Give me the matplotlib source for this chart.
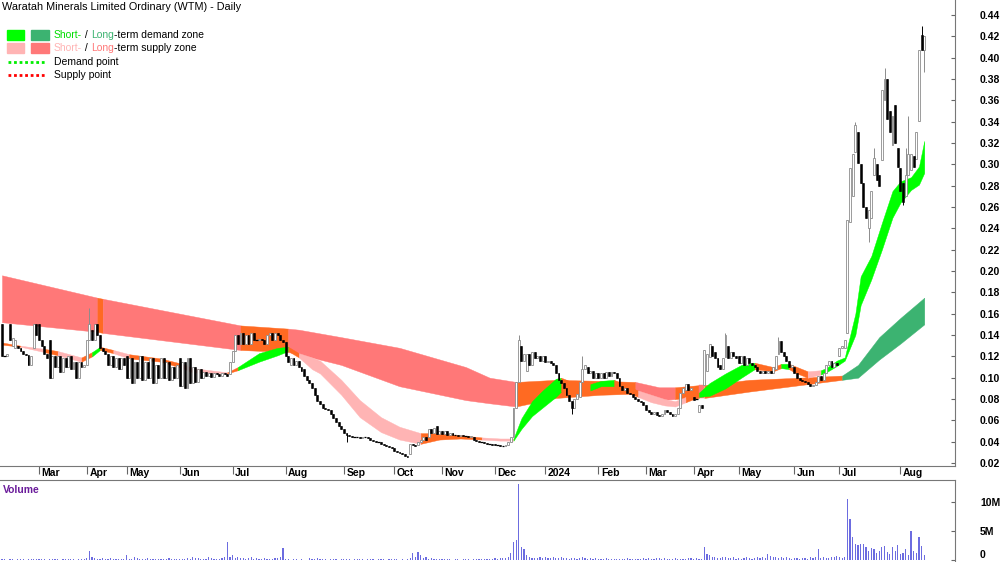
import numpy as np
import matplotlib
matplotlib.use("Agg")
import matplotlib.pyplot as plt
from matplotlib.patches import Rectangle
from matplotlib.lines import Line2D

plt.rcParams['font.family'] = ['Liberation Sans', 'DejaVu Sans']

# ---- data (prices in thousandths of a dollar, volume in 100k shares) ----
month_bars = [14, 18, 15, 20, 20, 20, 22, 19, 18, 20, 19, 20, 18, 18, 17, 21, 17, 23, 10]   # Feb-23 .. Aug-24
month_labels = ["Mar", "Apr", "May", "Jun", "Jul", "Aug", "Sep", "Oct", "Nov", "Dec",
                "2024", "Feb", "Mar", "Apr", "May", "Jun", "Jul", "Aug"]

opens = [
    150, 120, 120, 150, 130, 128, 130, 128, 125, 122, 121, 112, 128, 150,
    150, 135, 130, 122, 135, 100, 120, 110, 120, 105, 118, 110, 120, 108, 115, 100, 115, 110,
    112, 135, 145, 135, 150, 140, 128, 125, 122, 112, 120, 110, 118, 108, 118,
    120, 100, 118, 95, 115, 100, 120, 98, 115, 100, 118, 95, 112, 100, 118, 100, 115, 98, 110, 100,
    118, 92, 115, 90, 118, 95, 110, 96, 108, 100, 105, 102, 104, 101, 104, 103, 102, 104, 103, 103,
    115, 125, 140, 132, 142, 132, 140, 132, 142, 135, 135, 136, 135, 132, 140, 142, 135, 142, 140, 135,
    133, 120, 112, 118, 112, 116, 110, 108, 102, 98, 95, 90, 84, 78, 75, 72, 71, 70, 66, 62, 58, 55,
    52, 48, 46, 45, 44, 44, 44, 43, 44, 44, 43, 42, 41, 40, 40, 38, 37, 36, 35,
    34, 31, 30, 29, 28, 27, 28, 38, 37, 37, 40, 42, 44, 44, 52, 48, 55, 47,
    50, 47, 50, 46, 48, 46, 46, 45, 46, 45, 45, 44, 44, 42, 41, 40, 40, 39, 38, 38,
    38, 37, 37, 36, 36, 37, 40, 44, 72, 96, 130, 116, 106, 122, 112, 124, 118, 120, 116,
    120, 115, 116, 114, 112, 104, 98, 95, 90, 84, 78, 72, 80, 82, 96, 108, 110, 104, 106, 100,
    104, 100, 104, 100, 105, 102, 105, 104, 100, 92, 88, 90, 86, 85, 82, 80, 78, 77,
    74, 70, 68, 66, 68, 65, 64, 66, 70, 68, 66, 64, 66, 72, 86, 88, 94, 88,
    82, 80, 68, 74, 93, 106, 119, 130, 124, 118, 112, 108, 119, 130, 118, 124, 120,
    120, 114, 120, 112, 118, 114, 112, 110, 106, 104, 106, 104, 106, 104, 108, 122, 134, 124, 120, 116, 110,
    110, 104, 100, 98, 97, 96, 94, 92, 93, 96, 102, 98, 104, 112, 116, 110, 114,
    120, 128, 128, 142, 246, 270, 312, 330, 300, 283, 260, 240, 250, 290, 300, 290, 304, 360, 380, 350, 318, 356, 315,
    297, 283, 270, 290, 295, 308, 305, 341, 421, 407,
]
closes = [
    120, 120, 122, 135, 137, 135, 128, 125, 122, 121, 112, 120, 150, 140,
    135, 130, 122, 118, 100, 120, 110, 120, 105, 118, 110, 120, 108, 115, 100, 115, 110, 112,
    135, 150, 135, 150, 140, 128, 125, 122, 112, 120, 110, 118, 108, 118, 112,
    100, 118, 95, 115, 100, 120, 98, 115, 100, 118, 95, 112, 100, 118, 100, 115, 98, 110, 100, 112,
    92, 115, 90, 118, 95, 110, 96, 108, 100, 105, 102, 104, 101, 104, 103, 102, 104, 103, 102, 115,
    125, 140, 132, 142, 132, 140, 132, 142, 135, 135, 136, 135, 132, 140, 142, 135, 142, 140, 135, 133,
    120, 115, 118, 112, 116, 110, 106, 102, 98, 95, 90, 84, 78, 75, 72, 71, 70, 66, 62, 58, 55, 52,
    48, 46, 45, 44, 44, 44, 43, 44, 44, 43, 42, 41, 40, 40, 38, 37, 36, 35, 34,
    31, 30, 29, 28, 27, 26, 38, 37, 36, 40, 42, 44, 42, 52, 48, 53, 47, 50,
    47, 50, 46, 48, 46, 46, 45, 46, 45, 45, 44, 45, 42, 41, 40, 40, 39, 38, 38, 37,
    37, 37, 36, 36, 37, 40, 44, 72, 96, 135, 116, 122, 122, 112, 124, 118, 120, 116, 120,
    115, 116, 114, 112, 104, 98, 95, 90, 84, 78, 72, 80, 85, 96, 108, 112, 104, 106, 100, 104,
    100, 104, 100, 105, 102, 105, 104, 100, 92, 88, 90, 86, 85, 82, 80, 78, 77, 74,
    70, 68, 66, 68, 65, 64, 66, 70, 68, 66, 64, 66, 72, 86, 90, 94, 88, 90,
    79, 80, 74, 72, 126, 122, 132, 120, 118, 110, 108, 118, 140, 118, 124, 120, 118,
    114, 120, 112, 118, 114, 112, 110, 106, 104, 106, 104, 106, 104, 110, 120, 134, 124, 120, 116, 110, 112,
    104, 100, 98, 97, 96, 94, 92, 93, 96, 102, 98, 104, 112, 116, 110, 114, 112,
    128, 130, 135, 248, 297, 310, 337, 301, 283, 260, 250, 257, 275, 306, 285, 280, 370, 380, 343, 330, 345, 320, 298,
    275, 265, 290, 310, 310, 298, 330, 407, 407, 420,
]
wick_highs = {33: 165, 195: 140, 219: 120, 273: 142, 293: 138, 322: 340, 329: 315,
              333: 390, 341: 315, 342: 345, 347: 430}
wick_lows = {130: 40, 215: 66, 327: 227, 340: 262, 348: 387}

volume = [
    2, 1, 0, 1, 1, 0, 1, 2, 1, 0, 1, 1, 2, 1,
    1, 2, 1, 0, 1, 1, 2, 1, 0, 1, 1, 1, 2, 1, 0, 1, 2, 1,
    4, 15, 5, 3, 2, 1, 3, 2, 1, 4, 2, 1, 1, 2, 1,
    8, 2, 1, 6, 3, 1, 2, 1, 4, 1, 2, 1, 1, 2, 1, 1, 3, 1, 1, 2,
    2, 1, 1, 4, 2, 6, 3, 4, 2, 1, 2, 5, 3, 1, 2, 1, 4, 6, 31, 5,
    8, 4, 6, 3, 4, 2, 3, 5, 2, 3, 2, 1, 3, 2, 1, 2, 3, 4, 6, 20,
    2, 1, 0, 1, 1, 0, 1, 0, 0, 4, 1, 2, 3, 1, 2, 1, 0, 1, 2, 1, 0, 1,
    2, 1, 1, 0, 1, 1, 2, 1, 0, 1, 1, 1, 0, 1, 1, 1, 0, 1, 2,
    1, 1, 0, 1, 0, 2, 4, 12, 6, 14, 8, 3, 5, 2, 3, 1, 2, 2,
    1, 2, 1, 1, 0, 1, 1, 0, 1, 1, 1, 0, 1, 1, 2, 1, 1, 2, 1, 2,
    3, 2, 3, 4, 3, 5, 12, 30, 35, 130, 22, 18, 8, 5, 4, 3, 4, 5, 3,
    6, 4, 3, 5, 4, 3, 5, 4, 3, 2, 4, 3, 2, 4, 5, 3, 2, 3, 2, 3,
    2, 1, 2, 3, 1, 2, 1, 2, 1, 2, 1, 3, 2, 1, 2, 2, 1, 3,
    2, 3, 1, 2, 3, 4, 2, 3, 2, 1, 2, 3, 1, 2, 1, 2, 3, 4,
    2, 3, 1, 2, 22, 10, 8, 5, 6, 4, 3, 5, 6, 4, 3, 5, 2,
    3, 2, 4, 5, 3, 2, 4, 6, 3, 5, 4, 10, 7, 5, 6, 4, 5, 3, 6, 4, 2,
    4, 3, 2, 3, 4, 2, 5, 3, 6, 18, 4, 5, 3, 4, 6, 5, 7,
    6, 4, 5, 105, 70, 40, 28, 25, 27, 28, 22, 15, 20, 18, 12, 15, 22, 24, 13, 10, 22, 15, 26,
    10, 12, 18, 8, 50, 15, 12, 40, 24, 8,
]

# short-term zone (knot bar index, upper, lower, zone type from this knot on)
short_idx = [0, 7, 16, 21, 30, 34, 37, 42, 48, 60, 68, 72, 85, 89, 97, 104, 108, 112, 117, 120,
             128, 135, 143, 150, 158, 165, 173, 181, 188, 193, 196, 200, 204, 209, 211, 216, 222,
             226, 231, 236, 240, 245, 250, 254, 258, 263, 267, 273, 279, 284, 291, 294, 297, 299,
             304, 309, 311, 315, 318, 322, 324, 328, 332, 336, 339, 343, 346, 348]
short_hi = [133, 130, 127, 125, 119, 124, 129, 126, 122, 118, 113, 109, 105, 110, 123, 128, 129, 123,
            119, 116, 98, 79, 63, 54, 48, 48, 46, 44, 43, 43, 62, 78, 88, 99, 100, 95, 94, 97, 98,
            92, 88, 84, 80, 78, 82, 86, 95, 104, 112, 114, 110, 113, 113, 111, 106, 107, 109, 116,
            119, 160, 195, 214, 245, 275, 284, 288, 298, 322]
short_lo = [131, 129, 124, 121, 115, 120, 126, 123, 118, 115, 109, 105, 104, 107, 115, 121, 125, 119,
            108, 104, 84, 63, 49, 42, 38, 42, 43, 42, 41, 41, 52, 64, 72, 82, 87, 88, 88, 92, 92,
            86, 82, 77, 74, 73, 77, 82, 83, 90, 100, 108, 106, 109, 108, 105, 100, 103, 105, 111,
            116, 140, 168, 192, 220, 250, 264, 276, 281, 292]
short_zone = "opopogopoo" "ppogggoppp" "ppppoooppg" "ggggooggoo" "ppppoggggo" "ogoopggggg" "gggggggg"

# long-term zone
long_idx = [0, 36, 38, 90, 108, 112, 128, 150, 175, 184, 194, 209, 226, 239, 248, 254, 263, 265,
            282, 301, 317, 323, 331, 339, 348]
long_hi = [196, 175, 174, 149, 146, 145, 138, 128, 110, 100, 96, 98, 97, 96, 91, 91, 93, 93, 98,
           100, 102, 112, 138, 156, 175]
long_lo = [152, 143, 142, 126, 124, 122, 112, 92, 79, 76, 73, 81, 84, 85, 79, 80, 81, 81, 87, 93,
           98, 100, 117, 132, 150]
long_zone = "rororrrrrr" "ooorrorooo" "ddddd"

ZONE_COLORS = {"r": "#FF7878", "p": "#FFB4B4", "g": "#00FF00", "d": "#3CB371", "o": "#FF6A22"}

# ---- helpers ----
def draw_zone(ax, idx, hi, lo, zone, z):
    idx = np.asarray(idx)
    hi = np.asarray(hi) / 1000
    lo = np.asarray(lo) / 1000
    start = 0
    n = len(idx)
    for k in range(1, n):
        if k == n - 1 or zone[k] != zone[start]:
            sl = slice(start, k + 1)
            ax.fill_between(idx[sl], lo[sl], hi[sl], color=ZONE_COLORS[zone[start]],
                            lw=0.3, edgecolor=ZONE_COLORS[zone[start]], zorder=z)
            start = k


def rich_text(fig, x, y, parts, **kw):
    r = fig.canvas.get_renderer()
    for s, c in parts:
        t = fig.text(x, y, s, color=c, **kw)
        x += t.get_window_extent(renderer=r).width / fig.bbox.width


def main():
    o = np.array(opens) / 1000
    c = np.array(closes) / 1000
    hi = np.maximum(o, c)
    lo = np.minimum(o, c)
    for i, v in wick_highs.items():
        hi[i] = v / 1000
    for i, v in wick_lows.items():
        lo[i] = v / 1000
    vol = np.array(volume) * 1e5
    x = np.arange(len(o))
    assert len(o) == len(c) == len(vol) == sum(month_bars)
    starts = np.cumsum(month_bars)[:-1]

    fig = plt.figure(figsize=(10, 5.62), dpi=100)
    ax = fig.add_axes([0, 0.1708, 0.955, 0.8292])
    axv = fig.add_axes([0, 0, 0.955, 0.1459])

    draw_zone(ax, long_idx, long_hi, long_lo, long_zone, 1)
    draw_zone(ax, short_idx, short_hi, short_lo, short_zone, 2)

    up = c > o
    down = c < o
    flat = c == o
    ax.vlines(x[up], lo[up], hi[up], color="#8C8C8C", lw=0.7, zorder=3)
    ax.vlines(x[~up], lo[~up], hi[~up], color="black", lw=0.7, zorder=3)
    ax.bar(x[up], (c - o)[up], bottom=o[up], width=0.72, facecolor="white",
           edgecolor="#8C8C8C", lw=0.6, zorder=4)
    ax.bar(x[down], (o - c)[down], bottom=c[down], width=0.72, color="black",
           edgecolor="black", lw=0.4, zorder=4)
    ax.hlines(c[flat], x[flat] - 0.5, x[flat] + 0.5, color="black", lw=0.9, zorder=4)

    ax.set_xlim(-0.75, 359.6)
    ax.set_ylim(0.0172, 0.4541)
    ax.yaxis.tick_right()
    ax.set_yticks(np.arange(0.02, 0.445, 0.02))
    ax.set_yticklabels([f"{v:.2f}" for v in np.arange(0.02, 0.445, 0.02)],
                       fontsize=7.5, fontweight="bold")
    ax.tick_params(axis="y", direction="in", length=3, pad=18, color="#666666")
    ax.set_xticks(starts)
    ax.tick_params(axis="x", direction="out", length=6, labelbottom=False, color="#666666")
    trans = ax.get_xaxis_transform()
    for s, lab in zip(starts, month_labels):
        ax.text(s + 1.0, -0.016, lab, transform=trans, ha="left", va="center",
                fontsize=7.5, fontweight="bold")
    for side in ("left", "top"):
        ax.spines[side].set_visible(False)
    for side in ("right", "bottom"):
        ax.spines[side].set_color("#777777")

    axv.bar(x, vol, width=0.45, color="#6C6CE0", zorder=2)
    axv.set_xlim(-0.75, 359.6)
    axv.set_ylim(-0.34e6, 13.68e6)
    axv.yaxis.tick_right()
    axv.set_yticks([0, 5e6, 10e6])
    axv.set_yticklabels(["0", "5M", "10M"], fontsize=7.5, fontweight="bold")
    axv.get_yticklabels()[0].set_va("bottom")
    axv.tick_params(axis="y", direction="in", length=3, pad=18, color="#666666")
    axv.set_xticks([])
    for side in ("left", "bottom"):
        axv.spines[side].set_visible(False)
    for side in ("right", "top"):
        axv.spines[side].set_color("#777777")
    axv.text(0.003, 0.88, "Volume", transform=axv.transAxes, color="#6A1B9A",
             fontsize=7.5, fontweight="bold", va="center")

    # title and legend
    fig.text(0.002, 1 - 7 / 562, "Waratah Minerals Limited Ordinary (WTM) - Daily",
             fontsize=7.8, va="center")
    boxes = [(7, 30, "#00FF00"), (31, 30, "#3CB371"), (7, 43, "#FFB4B4"), (31, 43, "#FF7878")]
    for bx, by, col in boxes:
        w = 17 if bx == 7 else 18
        fig.add_artist(Rectangle((bx / 1000, 1 - (by + 10) / 562), w / 1000, 10 / 562,
                                 transform=fig.transFigure, color=col))
    rich_text(fig, 0.054, 1 - 35 / 562,
              [("Short-", "#00DD00"), (" / ", "black"), ("Long", "#3CB371"),
               ("-term demand zone", "black")], fontsize=7.5, va="center")
    rich_text(fig, 0.054, 1 - 48 / 562,
              [("Short-", "#FFB4B4"), (" / ", "black"), ("Long", "#FF7878"),
               ("-term supply zone", "black")], fontsize=7.5, va="center")
    for yy, col, lab in ((62, "#00EE00", "Demand point"), (75, "#FF0000", "Supply point")):
        fig.add_artist(Line2D([0.008, 0.045], [1 - yy / 562] * 2, transform=fig.transFigure,
                              color=col, lw=2, ls=(0, (1, 1))))
        fig.text(0.054, 1 - yy / 562, lab, fontsize=7.5, va="center")

    fig.savefig("out.png", dpi=100)


if __name__ == "__main__":
    main()
